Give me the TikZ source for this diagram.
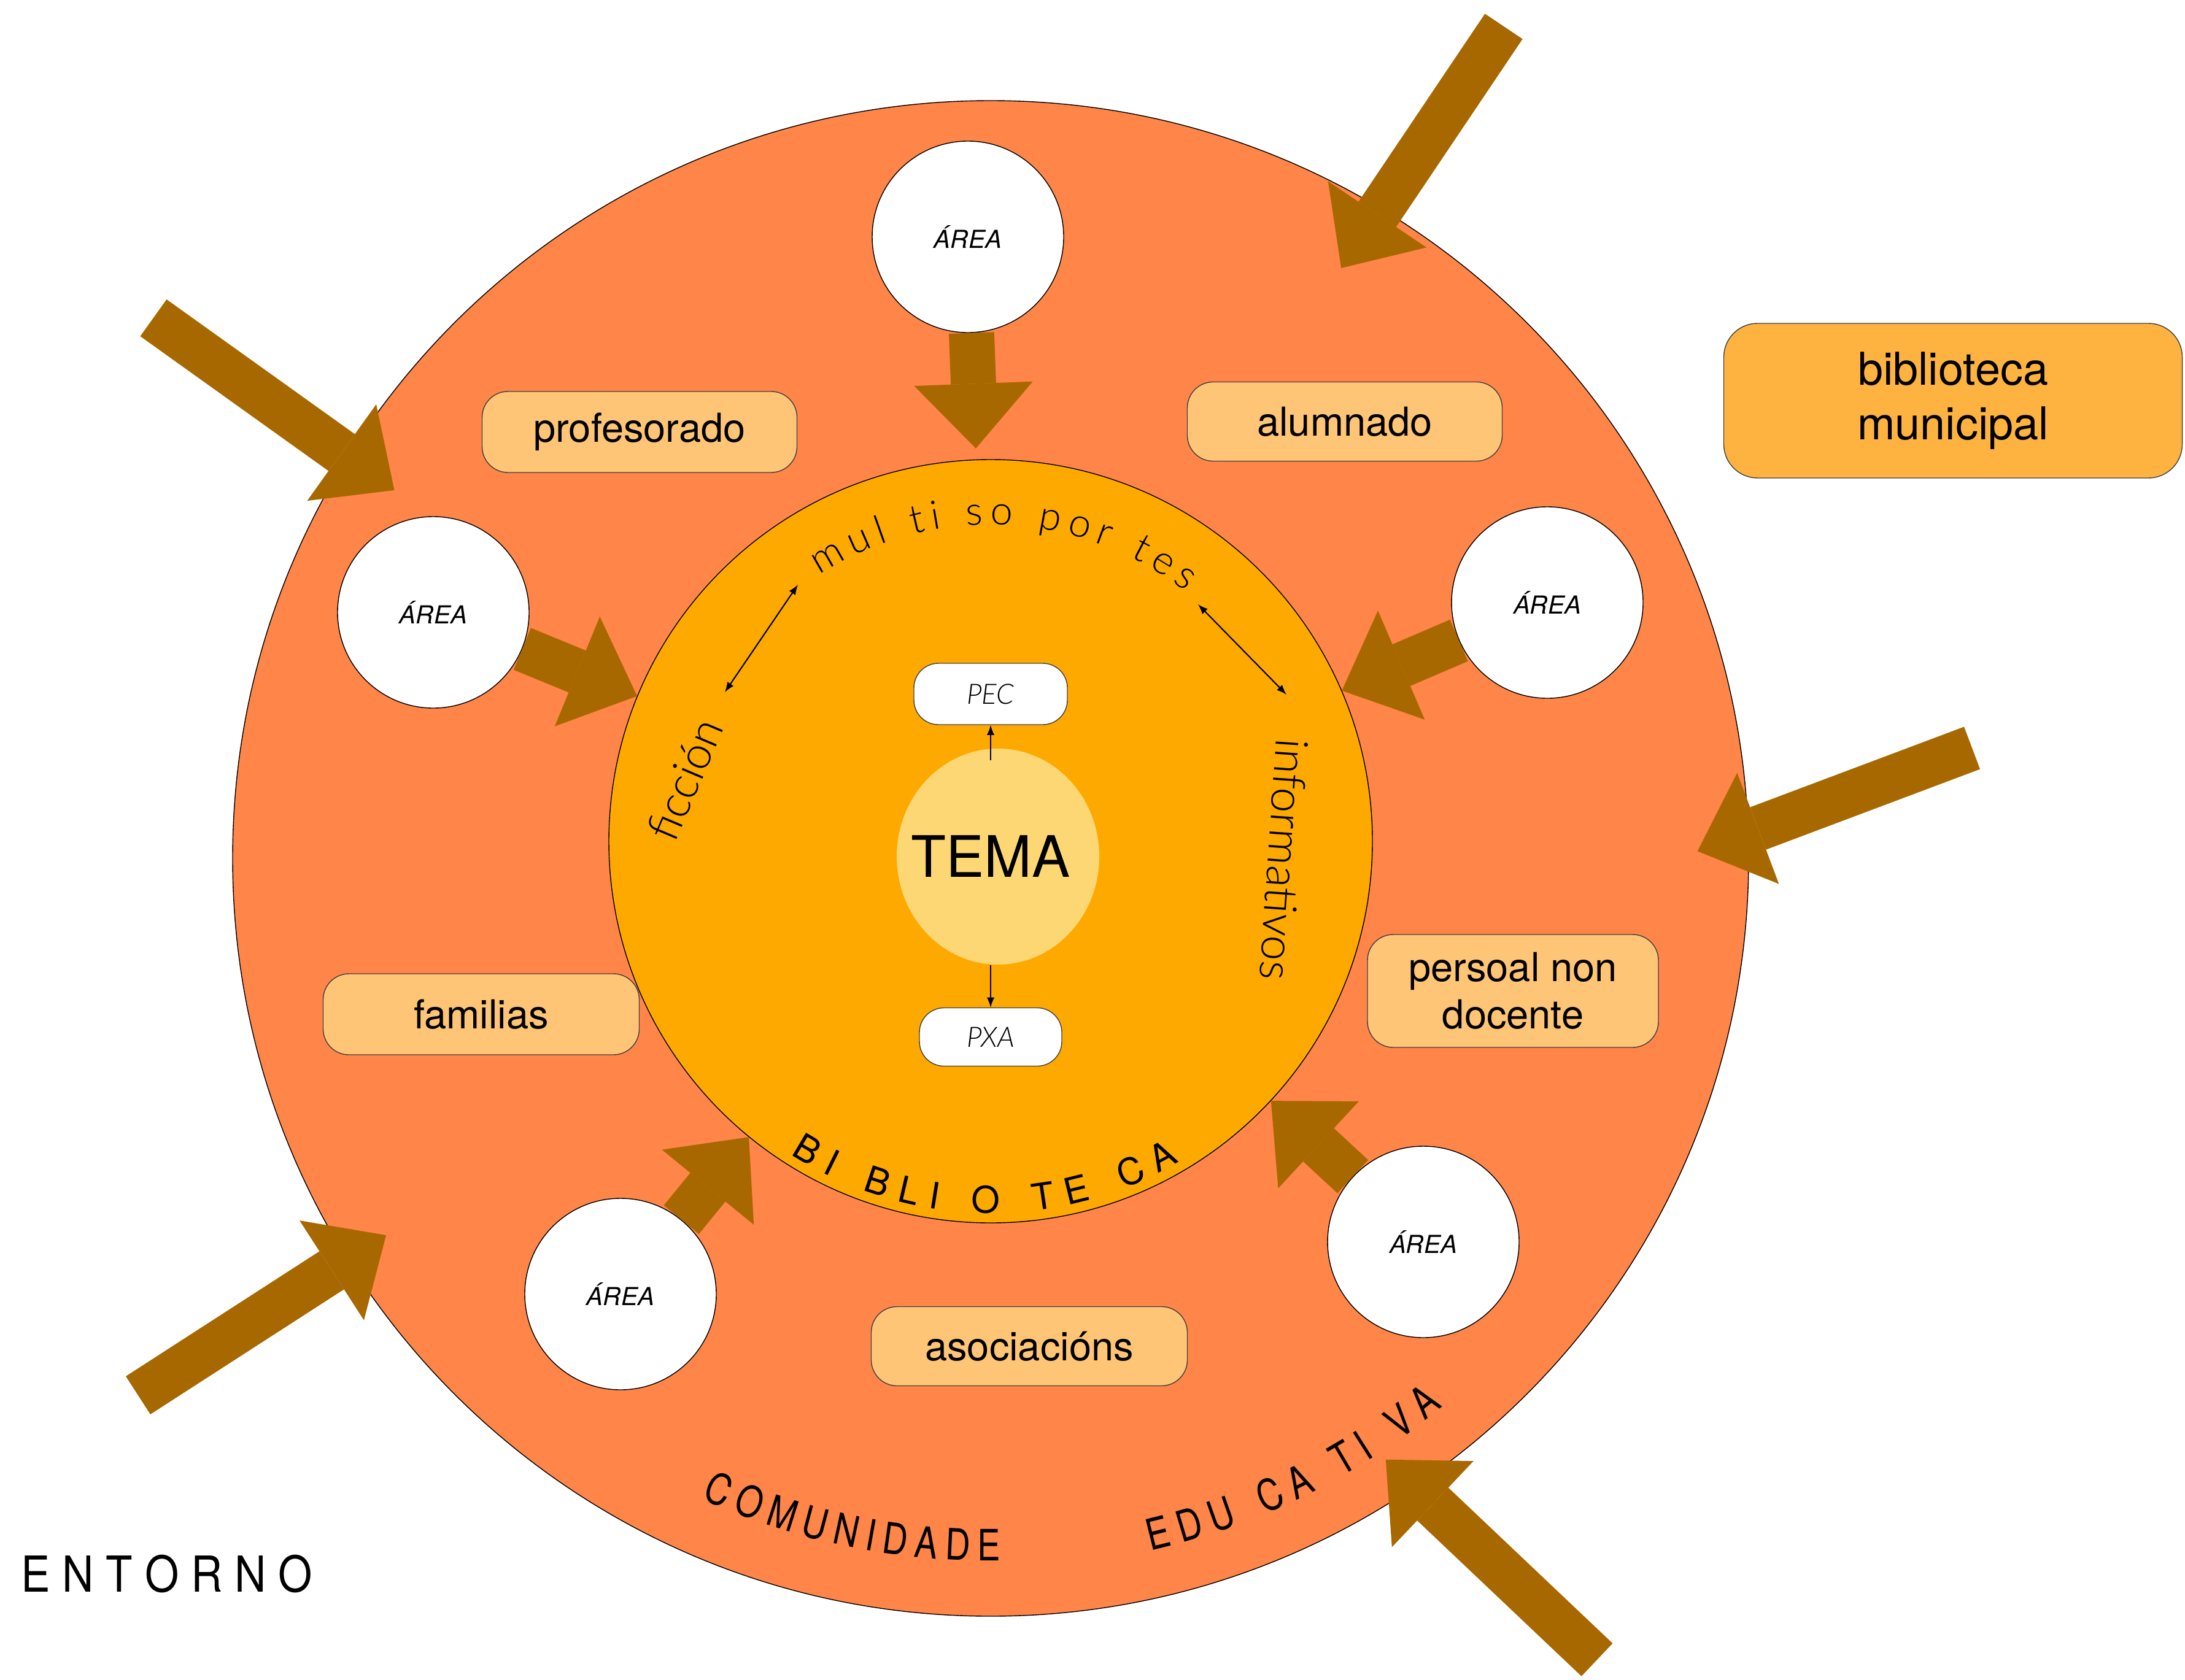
\documentclass[tikz,border=0pt]{standalone}
\usepackage{fontspec}
\setmainfont{TeX Gyre Heros}
\newfontfamily\lightfont{Lato Light}
\newfontfamily\narrowfont{TeX Gyre Heros}[FakeStretch=0.80]
\newfontfamily\semifont{TeX Gyre Heros}[FakeStretch=0.88]
\usepackage{xcolor}
\usetikzlibrary{calc, arrows.meta, positioning, shapes.geometric, decorations.text}

\definecolor{comunidadecol}{HTML}{FF8548}
\definecolor{bibliocol}{HTML}{FEA900}
\definecolor{temacol}{HTML}{FED775}
\definecolor{groupcol}{HTML}{FEC577}
\definecolor{municol}{HTML}{FEB340}
\definecolor{flowcol}{HTML}{A86800}

\begin{document}
\begin{tikzpicture}[>=latex, every node/.append style={inner sep=0pt}]
		\tikzstyle{round} = [draw=black, line width=0.4pt, circle]
		\tikzstyle{area} = [round, fill=white, minimum size=3.12cm, font=\fontsize{11.5}{14}\selectfont\itshape]
		\tikzstyle{group} = [draw=black!75, line width=0.4pt, fill=groupcol, rounded corners=0.42cm, align=center, font=\fontsize{18.5}{22}\selectfont]
		\tikzstyle{plan} = [draw=black!75, line width=0.4pt, fill=white, rounded corners=0.4cm, font=\fontsize{13}{15}\selectfont\lightfont\itshape]
		\tikzstyle{flow} = [line width=21pt, draw=flowcol, -{Triangle[length=30pt, width=55pt, line width=0pt]}]
		\tikzstyle{link} = [line width=0.6pt]
		\tikzstyle{curved} = [decorate, decoration={text along path, text align=fit to path}]
		\useasboundingbox (0,0) rectangle (35.60,-27.37);
		
		% comunidade e biblioteca
		\node[round, fill=comunidadecol, minimum size=24.70cm] at (16.14,-13.99) (comunidade) {};
		\node[round, fill=bibliocol, minimum size=12.44cm] at (16.14,-13.71) (biblio) {};
		
		\node[group, minimum width=5.13cm, minimum height=1.32cm] at (10.42,-7.04) (profesorado) {profesorado};
		\node[group, minimum width=5.13cm, minimum height=1.29cm] at (21.91,-6.87) (alumnado) {alumnado};
		\node[group, minimum width=5.15cm, minimum height=1.32cm] at (7.84,-16.53) (familias) {familias};
		\node[group, minimum width=4.74cm, minimum height=1.84cm] at (24.65,-16.15) (persoal) {persoal non\\docente};
		\node[group, minimum width=5.15cm, minimum height=1.29cm] at (16.77,-21.94) (asociacions) {asociacións};
		\node[group, fill=municol, rounded corners=0.55cm, minimum width=7.47cm, minimum height=2.52cm, font=\fontsize{21}{25.3}\selectfont] at (31.82,-6.53) (municipal) {biblioteca\\municipal};
		
		\node[area] at (15.77,-3.86) (areaT) {ÁREA};
		\node[area] at (7.06,-9.98) (areaL) {ÁREA};
		\node[area] at (25.21,-9.82) (areaR) {ÁREA};
		\node[area] at (10.11,-21.09) (areaBL) {ÁREA};
		\node[area] at (23.19,-20.24) (areaBR) {ÁREA};
		
		% tema
		\node[ellipse, fill=temacol, minimum width=3.30cm, minimum height=3.52cm,
			label={[xshift=-0.12cm, font=\fontsize{26.5}{30}\selectfont]center:TEMA}] at (16.26,-13.96) (tema) {};
		\node[plan, minimum width=2.50cm, minimum height=1.00cm] at (16.14,-11.31) (pec) {PEC};
		\node[plan, minimum width=2.32cm, minimum height=0.95cm] at (16.14,-16.90) (pxa) {PXA};
		\draw[link, ->] ([yshift=-0.2cm]pec.south |- tema.north) -- (pec.south);
		\draw[link, ->] (pxa.north |- tema.south) -- (pxa.north);
		
		\node[rotate=67, font=\fontsize{21}{24}\selectfont\lightfont] at (11.16,-12.70) (ficcion) {ficción};
		\node[rotate=-94, font=\fontsize{21}{24}\selectfont\lightfont] at (20.92,-14.01) (informativos) {informativos};
		\coordinate (ficEnd) at (11.81,-11.28);
		\coordinate (mulLeft) at (13.00,-9.53);
		\coordinate (mulRight) at (19.52,-9.85);
		\coordinate (infEnd) at (20.96,-11.32);
		\draw[link, <->] (ficEnd) -- (mulLeft);
		\draw[link, <->] (mulRight) -- (infEnd);
		
		% textos curvos
		\path[curved, decoration={text={|\fontsize{18.5}{22}\selectfont\lightfont|mul ti so por tes}}]
		($(biblio.center)+(122.7:5.16)$) arc[start angle=122.7, end angle=52, radius=5.16];
		\path[curved, decoration={text={|\fontsize{17}{20}\selectfont|BI BLI O TE CA}}]
		($(biblio.center)+(237.4:6.06)$) arc[start angle=237.4, end angle=300.5, radius=6.06];
		\path[curved, decoration={text={|\fontsize{20}{24}\selectfont\narrowfont|COMUNIDADE}}]
		($(comunidade.center)+(245.7:11.45)$) arc[start angle=245.7, end angle=270.8, radius=11.45];
		\path[curved, decoration={text={|\fontsize{20}{24}\selectfont\narrowfont|EDU CA TI VA}}]
		($(comunidade.center)+(283:11.58)$) arc[start angle=283, end angle=309.5, radius=11.58];
		
		% frechas
		\draw[flow, shorten >=0.18cm] (areaT) -- (biblio);
		\draw[flow] (areaL) -- (biblio);
		\draw[flow] (areaR) -- (biblio);
		\draw[flow] (areaBL) -- (biblio);
		\draw[flow] (areaBR) -- (biblio);
		
		\coordinate (fromA) at (24.50,-0.43);
		\coordinate (fromB) at (2.50,-5.18);
		\coordinate (fromC) at (32.13,-12.19);
		\coordinate (fromD) at (2.25,-22.74);
		\coordinate (fromE) at (26.02,-27.05);
		\draw[flow, shorten >=-1.17cm] (fromA) -- (comunidade.59);
		\draw[flow, shorten >=-0.94cm] (fromB) -- (comunidade.148);
		\draw[flow, shorten >=-0.89cm] (fromC) -- (comunidade.2);
		\draw[flow, shorten >=-0.75cm] (fromD) -- (comunidade.212);
		\draw[flow, shorten >=-0.65cm] (fromE) -- (comunidade.-56);
		
		\node[anchor=west, font=\fontsize{23}{26}\selectfont\semifont] at (0.34,-25.65) (entorno) {E N T O R N O};
	\end{tikzpicture}
\end{document}
